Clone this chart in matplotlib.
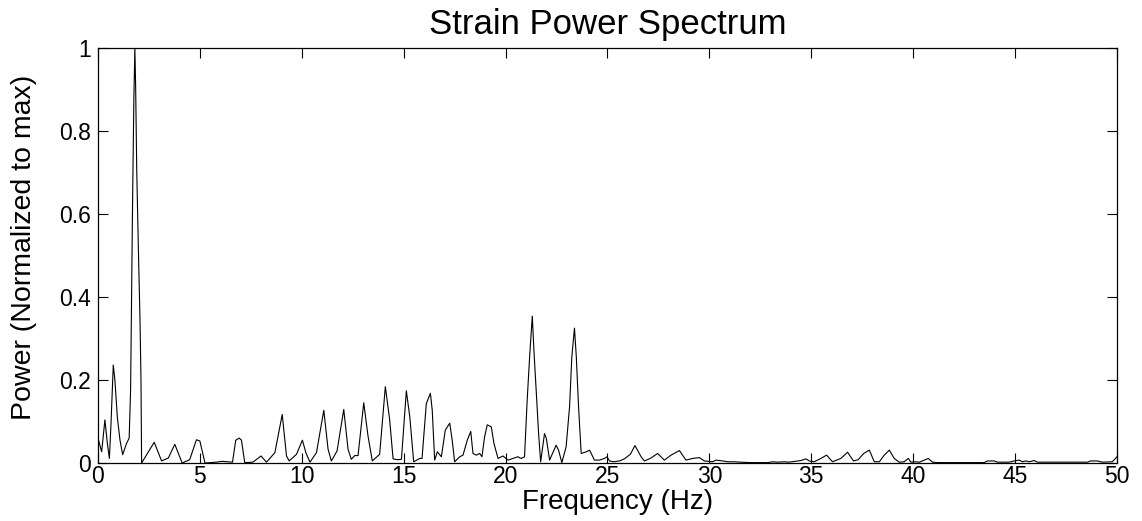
import matplotlib
matplotlib.use("Agg")
import matplotlib.pyplot as plt

# ---- data (vertices) ----
freq_hz = [
    0.00, 0.18, 0.34, 0.46, 0.56, 0.64, 0.75, 0.83, 0.95, 1.08, 1.21, 1.40, 1.53,
    1.60, 1.65, 1.70, 1.76, 1.81, 1.85, 1.90, 1.98, 2.06, 2.11, 2.14,
    2.76, 3.12, 3.45, 3.77, 4.13, 4.50, 4.83, 5.00, 5.25, 5.80, 6.10, 6.60,
    6.76, 6.93, 7.04, 7.20, 7.60, 8.00, 8.27, 8.68, 9.04, 9.25, 9.38, 9.74,
    10.03, 10.20, 10.40, 10.72, 11.08, 11.29, 11.45, 11.73, 12.06, 12.27, 12.43,
    12.60, 12.76, 13.04, 13.25, 13.46, 13.82, 14.10, 14.31, 14.48, 14.70, 14.89,
    15.13, 15.30, 15.49, 15.79, 15.90, 16.11, 16.31, 16.40, 16.52, 16.65, 16.85,
    17.04, 17.26, 17.38, 17.50, 17.75, 17.91, 18.12, 18.29, 18.40, 18.56, 18.73,
    18.84, 18.97, 19.10, 19.30, 19.43, 19.63, 19.87, 20.12, 20.36, 20.60, 20.77,
    20.93, 21.06, 21.18, 21.31, 21.39, 21.50, 21.62, 21.72, 21.91, 22.00, 22.16,
    22.48, 22.60, 22.76, 22.97, 23.14, 23.25, 23.38, 23.47, 23.58, 23.71, 23.96,
    24.12, 24.36, 24.61, 24.85, 24.98, 25.10, 25.30, 25.59, 25.83, 26.12, 26.35,
    26.65, 26.81, 27.10, 27.46, 27.79, 28.12, 28.53, 28.85, 29.18, 29.51, 29.75,
    30.16, 30.32, 30.65, 30.90, 31.20, 31.55, 32.00, 32.90, 33.10, 33.35, 33.67,
    33.90, 34.49, 34.74, 34.90, 35.14, 35.47, 35.75, 36.04, 36.45, 36.78, 37.07,
    37.30, 37.57, 37.85, 38.09, 38.34, 38.58, 38.83, 39.07, 39.32, 39.56, 39.76,
    39.89, 40.05, 40.30, 40.74, 40.95, 41.20, 43.48, 43.65, 43.97, 44.14, 44.71,
    44.95, 45.20, 45.36, 45.53, 45.70, 45.93, 46.10, 48.55, 48.71, 49.04, 49.28,
    49.77, 50.00,
]
power_norm = [
    0.060, 0.027, 0.104, 0.047, 0.011, 0.096, 0.236, 0.200, 0.110, 0.055, 0.020, 0.047, 0.060,
    0.176, 0.410, 0.640, 0.875, 1.000, 0.900, 0.710, 0.520, 0.350, 0.200, 0.000,
    0.050, 0.005, 0.012, 0.045, 0.000, 0.008, 0.056, 0.053, 0.000, 0.002, 0.004, 0.002,
    0.055, 0.060, 0.055, 0.001, 0.002, 0.017, 0.002, 0.025, 0.117, 0.017, 0.005, 0.021,
    0.055, 0.025, 0.002, 0.025, 0.127, 0.033, 0.005, 0.029, 0.129, 0.033, 0.009,
    0.018, 0.018, 0.145, 0.065, 0.005, 0.021, 0.184, 0.105, 0.010, 0.008, 0.009,
    0.174, 0.111, 0.003, 0.011, 0.011, 0.143, 0.168, 0.128, 0.007, 0.027, 0.015,
    0.079, 0.096, 0.055, 0.003, 0.015, 0.019, 0.055, 0.076, 0.023, 0.019, 0.023,
    0.015, 0.063, 0.092, 0.087, 0.047, 0.011, 0.017, 0.007, 0.011, 0.015, 0.011,
    0.015, 0.152, 0.256, 0.354, 0.272, 0.176, 0.071, 0.003, 0.071, 0.059, 0.007,
    0.043, 0.031, 0.001, 0.039, 0.136, 0.256, 0.325, 0.256, 0.136, 0.023, 0.027,
    0.031, 0.007, 0.007, 0.011, 0.015, 0.005, 0.003, 0.005, 0.010, 0.021, 0.042,
    0.015, 0.005, 0.011, 0.023, 0.007, 0.019, 0.030, 0.007, 0.011, 0.013, 0.005,
    0.003, 0.007, 0.005, 0.003, 0.003, 0.002, 0.001, 0.001, 0.003, 0.002, 0.003,
    0.002, 0.006, 0.010, 0.005, 0.003, 0.011, 0.019, 0.003, 0.011, 0.026, 0.005,
    0.008, 0.023, 0.031, 0.003, 0.003, 0.019, 0.031, 0.011, 0.002, 0.003, 0.011,
    0.002, 0.003, 0.002, 0.011, 0.002, 0.001, 0.001, 0.005, 0.005, 0.002, 0.002,
    0.005, 0.007, 0.003, 0.005, 0.003, 0.006, 0.002, 0.002, 0.005, 0.005, 0.002,
    0.003, 0.015,
]
x_ticks = [0, 5, 10, 15, 20, 25, 30, 35, 40, 45, 50]
y_ticks = [0, 0.2, 0.4, 0.6, 0.8, 1.0]
y_tick_labels = ["0", "0.2", "0.4", "0.6", "0.8", "1"]

plt.rcParams["font.family"] = ["Liberation Sans", "DejaVu Sans"]

fig = plt.figure(figsize=(11.42, 5.21), dpi=100)
ax = fig.add_axes([0.0858, 0.1113, 0.8923, 0.7966])

ax.plot(freq_hz, power_norm, color="black", linewidth=0.8)

ax.set_xlim(0, 50)
ax.set_ylim(0, 1)
ax.set_xticks(x_ticks)
ax.set_xticklabels([str(t) for t in x_ticks])
ax.set_yticks(y_ticks)
ax.set_yticklabels(y_tick_labels)
ax.tick_params(direction="in", length=7, width=0.8, top=True, right=True,
               labelsize=16.5)
ax.tick_params(axis="x", pad=1.5)
ax.tick_params(axis="y", pad=5)
for s in ax.spines.values():
    s.set_linewidth(0.9)

ax.set_title("Strain Power Spectrum", fontsize=25, pad=10)
ax.set_xlabel("Frequency (Hz)", fontsize=20)
ax.xaxis.set_label_coords(0.51, -0.062)
ax.xaxis.label.set_verticalalignment("top")
ax.set_ylabel("Power (Normalized to max)", fontsize=20.5)
ax.yaxis.set_label_coords(-0.060, 0.52)

fig.savefig("out.png", dpi=100)
